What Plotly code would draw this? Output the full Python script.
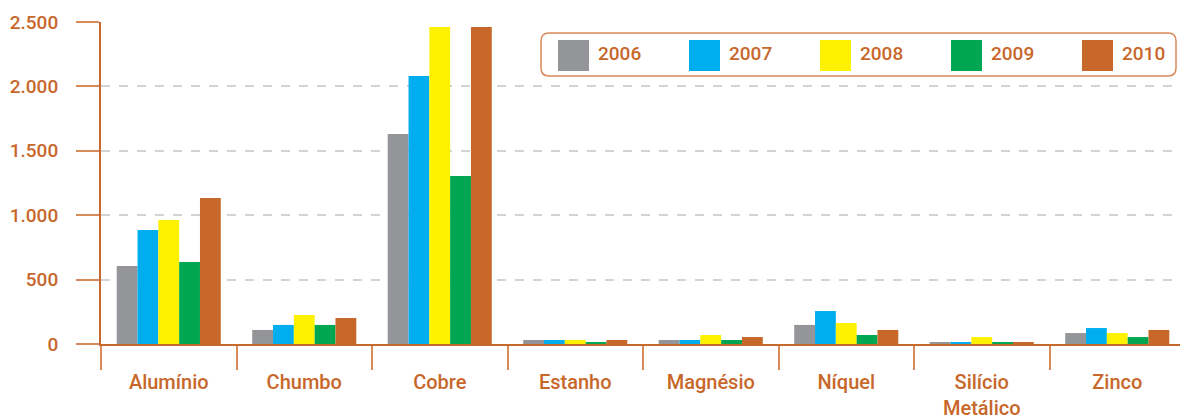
import plotly.graph_objects as go

categories = ["Alumínio", "Chumbo", "Cobre", "Estanho", "Magnésio", "Níquel", "Silício<br>Metálico", "Zinco"]
years = ["2006", "2007", "2008", "2009", "2010"]
v2006 = [606, 109, 1630, 31, 31, 148, 15, 85]
v2007 = [885, 148, 2081, 31, 31, 256, 15, 124]
v2008 = [963, 225, 2461, 31, 70, 163, 54, 85]
v2009 = [637, 148, 1304, 15, 31, 70, 15, 54]
v2010 = [1134, 202, 2461, 31, 54, 109, 15, 109]
series = [v2006, v2007, v2008, v2009, v2010]
colors = ["#939598", "#00aeef", "#fff200", "#00a651", "#c8672a"]
tick_vals = [0, 500, 1000, 1500, 2000, 2500]

ORANGE = "#c8672a"
FONT = "Roboto"

fig = go.Figure()
for name, vals, col in zip(years, series, colors):
    fig.add_trace(go.Bar(x=categories, y=vals, name=name, marker=dict(color=col, line=dict(width=0)),
                         showlegend=False))

# page has an 8px body margin; geometry below is in page pixels
OFF = 8
W, H = 1188 - OFF, 416 - OFF
L, R, T, B = 101, 1185, 22, 344
def px(x):
    return (x - L) / (R - L)
def py(y):
    return (B - y) / (B - T)

shapes = []
annotations = []
# rounded legend box
x0, x1, y0, y1, r = 541, 1176, 33, 76, 8
path = (f"M {px(x0+r)} {py(y0)} L {px(x1-r)} {py(y0)} Q {px(x1)} {py(y0)} {px(x1)} {py(y0+r)} "
        f"L {px(x1)} {py(y1-r)} Q {px(x1)} {py(y1)} {px(x1-r)} {py(y1)} "
        f"L {px(x0+r)} {py(y1)} Q {px(x0)} {py(y1)} {px(x0)} {py(y1-r)} "
        f"L {px(x0)} {py(y0+r)} Q {px(x0)} {py(y0)} {px(x0+r)} {py(y0)} Z")
shapes.append(dict(type="path", path=path, xref="paper", yref="paper",
                   line=dict(color="#d9895a", width=1.5), fillcolor="white", layer="above"))
sw_left = [558, 689, 820, 951, 1082]
for xl, name, col in zip(sw_left, years, colors):
    shapes.append(dict(type="rect", xref="paper", yref="paper", x0=px(xl), x1=px(xl + 31),
                       y0=py(71), y1=py(40), fillcolor=col, line=dict(width=0), layer="above"))
    annotations.append(dict(x=px(xl + 38), y=py(54), xref="paper", yref="paper", text=name,
                            showarrow=False, xanchor="left", yanchor="middle",
                            font=dict(family=FONT, size=19, color=ORANGE, weight=500)))

fig.update_layout(
    width=W, height=H,
    margin=dict(l=L - OFF, r=1188 - R, t=T - OFF, b=416 - B, autoexpand=False),
    paper_bgcolor="white", plot_bgcolor="white",
    barmode="group", bargap=0.232, bargroupgap=0,
    separators=",.",
    font=dict(family=FONT, size=19, color=ORANGE, weight=500),
    shapes=shapes, annotations=annotations,
)
fig.update_xaxes(
    automargin=False,
    showline=True, linecolor=ORANGE, linewidth=2,
    ticks="outside", tickson="boundaries", ticklen=24, tickcolor="#d98a5a", tickwidth=2,
    ticklabelstandoff=19,
    showgrid=False, tickfont=dict(family=FONT, size=20, color=ORANGE, weight=500),
)
fig.update_yaxes(
    automargin=False,
    range=[0, 2500], tickvals=tick_vals, tickformat=",d",
    showline=True, linecolor=ORANGE, linewidth=2,
    ticks="outside", ticklen=23, tickcolor="#d98a5a", tickwidth=2,
    showgrid=True, gridcolor="#d3d3d3", gridwidth=1.5, griddash="dash",
    zeroline=False, ticklabelstandoff=14,
    tickfont=dict(family=FONT, size=19, color=ORANGE, weight=500),
)
fig.write_html("out.html")
